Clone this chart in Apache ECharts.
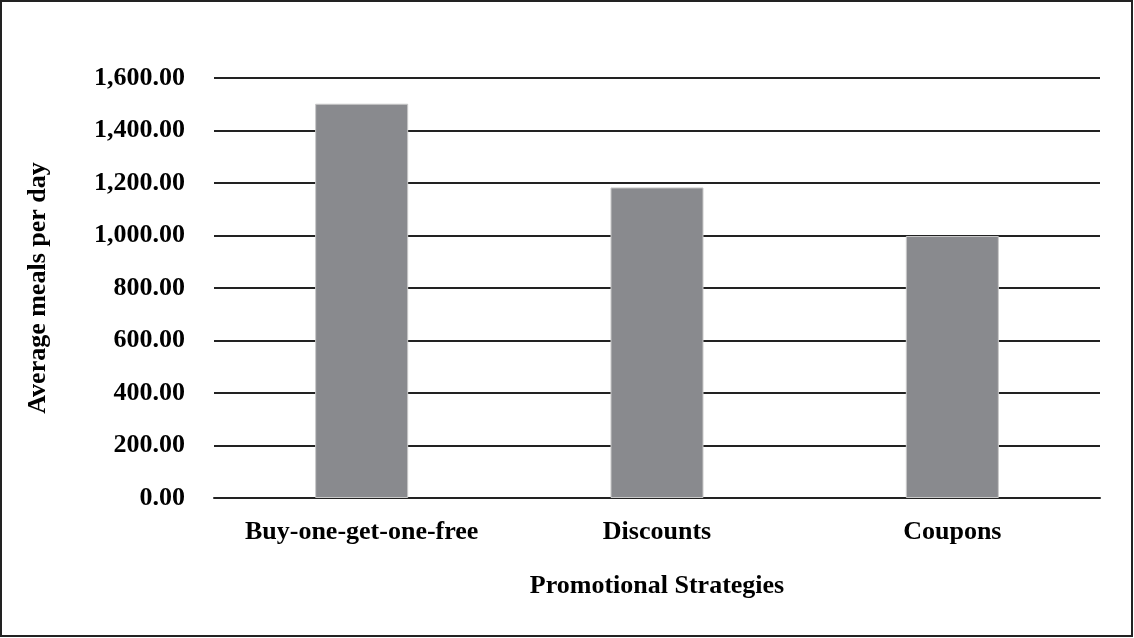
<!DOCTYPE html>
<html>
<head>
<meta charset="utf-8">
<script src="https://cdn.jsdelivr.net/npm/echarts@6/dist/echarts.min.js"></script>
<style>
html,body{margin:0;padding:0;background:#fff;}
#chart{width:1134px;height:638px;}
</style>
</head>
<body>
<div id="chart"></div>
<script>
const categories = ["Buy-one-get-one-free", "Discounts", "Coupons"];
const avgMeals = [1502, 1183, 998];
const yTicks = { min: 0, max: 1600, interval: 200 };
const xAxisTitle = "Promotional Strategies";
const yAxisTitle = "Average meals per day";

const font = '"Liberation Serif", "Times New Roman", serif';
const chart = echarts.init(document.getElementById('chart'));
chart.setOption({
  animation: false,
  backgroundColor: '#fff',
  graphic: [{
    type: 'rect',
    shape: { x: 1, y: 1, width: 1131, height: 635 },
    style: { fill: 'none', stroke: '#222', lineWidth: 2 },
    silent: true
  }],
  grid: { left: 214, right: 34, top: 78, bottom: 140 },
  xAxis: {
    type: 'category',
    data: categories,
    name: xAxisTitle,
    nameLocation: 'middle',
    nameGap: 75,
    nameTextStyle: { fontFamily: font, fontWeight: 'bold', fontSize: 26, color: '#000' },
    axisLine: { show: true, lineStyle: { color: '#222', width: 2 } },
    axisTick: { show: false },
    axisLabel: { interval: 0, fontFamily: font, fontWeight: 'bold', fontSize: 26, color: '#000', margin: 21 }
  },
  yAxis: {
    type: 'value',
    min: yTicks.min, max: yTicks.max, interval: yTicks.interval,
    name: yAxisTitle,
    nameLocation: 'middle',
    nameGap: 163,
    nameTextStyle: { fontFamily: font, fontWeight: 'bold', fontSize: 26, color: '#000' },
    axisLine: { show: false },
    axisTick: { show: false },
    axisLabel: {
      fontFamily: font, fontWeight: 'bold', fontSize: 26, color: '#000', margin: 29,
      formatter: v => v.toLocaleString('en-US', { minimumFractionDigits: 2, maximumFractionDigits: 2 })
    },
    splitLine: { show: true, lineStyle: { color: '#222', width: 2 } }
  },
  series: [{
    type: 'bar',
    data: avgMeals,
    barWidth: '31.5%',
    itemStyle: { color: '#898a8e', borderColor: '#c9c9c9', borderWidth: 1 }
  }]
});
</script>
</body>
</html>
